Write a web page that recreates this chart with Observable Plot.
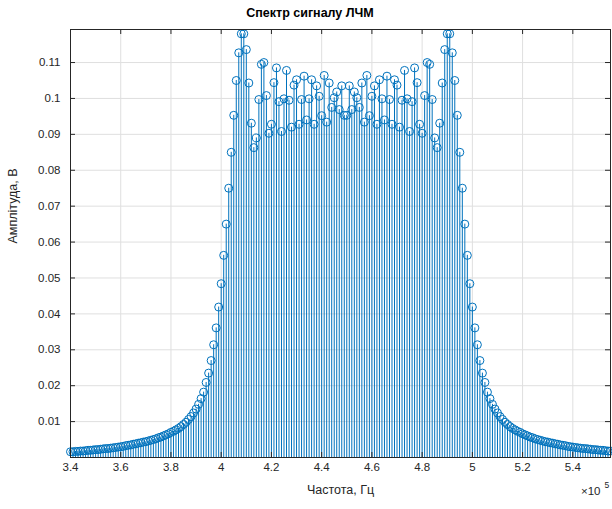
<!DOCTYPE html>
<html><head><meta charset="utf-8">
<script src="https://cdn.jsdelivr.net/npm/d3@7"></script>
<script src="https://cdn.jsdelivr.net/npm/@observablehq/plot@0.6"></script>
<style>
body{margin:0;background:#fff;font-family:"Liberation Sans",Arial,sans-serif;}
#title{width:620px;height:24px;line-height:26px;text-align:center;font-weight:bold;font-size:12.5px;color:#000;}
#chart{width:612px;}
</style></head><body>
<div id="title">Спектр сигналу ЛЧМ</div>
<div id="chart"></div>
<script>
const freqStartHz = 340000;
const freqStepHz = 1000;
// amplitude of each spectral line, 340 kHz ... 555 kHz
const amplitude = [
0.0016,0.0016,0.0017,0.0017,0.0018,0.0018,0.0019,0.0020,0.0020,0.0021,
0.0022,0.0022,0.0023,0.0024,0.0025,0.0025,0.0026,0.0027,0.0028,0.0029,
0.0030,0.0031,0.0033,0.0034,0.0035,0.0037,0.0038,0.0040,0.0041,0.0043,
0.0044,0.0046,0.0048,0.0050,0.0052,0.0055,0.0057,0.0060,0.0063,0.0066,
0.0070,0.0073,0.0077,0.0081,0.0086,0.0092,0.0098,0.0106,0.0114,0.0124,
0.0135,0.0148,0.0164,0.0182,0.0209,0.0235,0.0270,0.0314,0.0361,0.0419,
0.0484,0.0563,0.0650,0.0750,0.0850,0.0953,0.1050,0.1127,0.1180,0.1180,
0.1136,0.1043,0.0931,0.0863,0.0890,0.0997,0.1095,0.1100,0.1008,0.0903,
0.0928,0.1044,0.1085,0.0991,0.0908,0.0999,0.1078,0.0995,0.0920,0.1037,
0.1052,0.0928,0.0997,0.1062,0.0940,0.0999,0.1052,0.0928,0.1035,0.1006,
0.0952,0.1064,0.0934,0.1043,0.0975,0.1002,0.1018,0.0969,0.1035,0.0953,
0.0953,0.1035,0.0969,0.1018,0.1002,0.0975,0.1043,0.0934,0.1064,0.0952,
0.1006,0.1035,0.0928,0.1052,0.0999,0.0940,0.1062,0.0997,0.0928,0.1052,
0.1037,0.0920,0.0995,0.1078,0.0999,0.0908,0.0991,0.1085,0.1044,0.0928,
0.0903,0.1008,0.1100,0.1095,0.0997,0.0890,0.0863,0.0931,0.1043,0.1136,
0.1180,0.1180,0.1127,0.1050,0.0953,0.0850,0.0750,0.0650,0.0563,0.0484,
0.0419,0.0361,0.0314,0.0270,0.0235,0.0209,0.0182,0.0164,0.0148,0.0135,
0.0124,0.0114,0.0106,0.0098,0.0092,0.0086,0.0081,0.0077,0.0073,0.0070,
0.0066,0.0063,0.0060,0.0057,0.0055,0.0052,0.0050,0.0048,0.0046,0.0044,
0.0043,0.0041,0.0040,0.0038,0.0037,0.0035,0.0034,0.0033,0.0031,0.0030,
0.0029,0.0028,0.0027,0.0026,0.0025,0.0025,0.0024,0.0023,0.0022,0.0022,
0.0021,0.0020,0.0020,0.0019,0.0018,0.0018
];
const xTicks = [340000,360000,380000,400000,420000,440000,460000,480000,500000,520000,540000];
const xTickLabels = ["3.4","3.6","3.8","4","4.2","4.4","4.6","4.8","5","5.2","5.4"];
const yTicks = [0.01,0.02,0.03,0.04,0.05,0.06,0.07,0.08,0.09,0.1,0.11];
const yTickLabels = ["0.01","0.02","0.03","0.04","0.05","0.06","0.07","0.08","0.09","0.1","0.11"];
const xLabel = "Частота, Гц";
const yLabel = "Амплітуда, В";

const data = amplitude.map((a, i) => ({f: freqStartHz + i * freqStepHz, a}));
const blue = "#0072BD";
const ink = "#262626";
const grid = "#dfdfdf";

const chart = Plot.plot({
  width: 612, height: 485,
  marginTop: 5, marginBottom: 52, marginLeft: 70, marginRight: 2,
  style: {fontFamily: '"Liberation Sans", Arial, sans-serif', fontSize: "11.5px", color: ink, background: "white", overflow: "visible"},
  x: {domain: [340000, 555000]},
  y: {domain: [0, 0.1192]},
  marks: [
    Plot.ruleX(xTicks, {stroke: grid, strokeWidth: 1}),
    Plot.ruleY(yTicks, {stroke: grid, strokeWidth: 1}),
    Plot.ruleX(data, {x: "f", y1: 0, y2: "a", stroke: blue, strokeWidth: 1}),
    Plot.dot(data, {x: "f", y: "a", r: 4, stroke: blue, strokeWidth: 1, fill: "none"}),
    Plot.frame({stroke: ink, strokeWidth: 1}),
    Plot.ruleX(xTicks, {insetTop: 423, stroke: ink}),
    Plot.ruleX(xTicks, {insetBottom: 423, stroke: ink}),
    Plot.ruleY(yTicks, {insetRight: 535, stroke: ink}),
    Plot.ruleY(yTicks, {insetLeft: 535, stroke: ink}),
    Plot.axisX(xTicks, {tickSize: 0, tickPadding: 5, tickFormat: d => xTickLabels[xTicks.indexOf(d)], label: null, fontSize: 11.5, fill: ink}),
    Plot.axisY(yTicks, {tickSize: 0, tickPadding: 10, tickFormat: d => yTickLabels[yTicks.indexOf(d)], label: null, fontSize: 11.5, fill: ink}),
    Plot.text([xLabel], {frameAnchor: "bottom", dy: 36, fontSize: 12.5, fill: ink}),
    Plot.text([yLabel], {frameAnchor: "left", dx: -58, rotate: -90, fontSize: 12.5, fill: ink}),
    Plot.text(["×10"], {frameAnchor: "bottom-right", dx: -10, dy: 37, textAnchor: "end", fontSize: 11.5, fill: ink}),
    Plot.text(["5"], {frameAnchor: "bottom-right", dx: -6, dy: 30, textAnchor: "start", fontSize: 8.5, fill: ink})
  ]
});
document.getElementById("chart").appendChild(chart);
</script>
</body></html>
